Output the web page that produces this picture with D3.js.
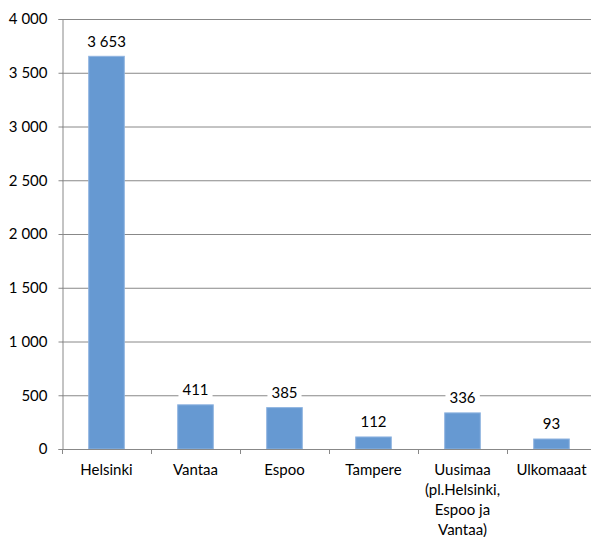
<!DOCTYPE html>
<html>
<head>
<meta charset="utf-8">
<script src="https://cdn.jsdelivr.net/npm/d3@7/dist/d3.min.js"></script>
<style>
  html, body { margin: 0; padding: 0; background: #fff; }
  svg { display: block; font-family: Lato, "Open Sans", sans-serif; }
</style>
</head>
<body>
<svg id="chart" width="591" height="537"></svg>
<script>
// Municipalities and their counts
const categories = ["Helsinki", "Vantaa", "Espoo", "Tampere", "Uusimaa (pl.Helsinki, Espoo ja Vantaa)", "Ulkomaaat"];
const categoryLines = [["Helsinki"], ["Vantaa"], ["Espoo"], ["Tampere"], ["Uusimaa", "(pl.Helsinki,", "Espoo ja", "Vantaa)"], ["Ulkomaaat"]];
const values = [3653, 411, 385, 112, 336, 93];
const yTicks = [0, 500, 1000, 1500, 2000, 2500, 3000, 3500, 4000];

const fmt = v => d3.format(",")(v).replace(/,/g, "\u00a0");
const fontSize = 15;

const svg = d3.select("#chart");
const plotLeft = 62, plotRight = 596, plotTop = 19, plotBottom = 449;

const x = d3.scaleBand().domain(categories).range([plotLeft, plotRight]).paddingInner(0.6).paddingOuter(0.3);
const y = d3.scaleLinear().domain([0, 4000]).range([plotBottom, plotTop]);

// Horizontal gridlines
svg.append("g").selectAll("line").data(yTicks.filter(t => t > 0)).join("line")
  .attr("x1", plotLeft).attr("x2", plotRight)
  .attr("y1", d => y(d) + 0.5).attr("y2", d => y(d) + 0.5)
  .attr("stroke", "#888").attr("stroke-width", 1);

// Y axis
const yAxis = svg.append("g").attr("transform", `translate(${plotLeft + 0.5},0)`)
  .call(d3.axisLeft(y).tickValues(yTicks).tickSize(4).tickPadding(11).tickFormat(fmt));
yAxis.select(".domain").attr("stroke", "#888");
yAxis.selectAll(".tick line").attr("stroke", "#888");
yAxis.selectAll(".tick text").attr("font-size", fontSize).attr("fill", "#000")
  .attr("font-family", "Lato, 'Open Sans', sans-serif");

// Bars
svg.append("g").selectAll("rect").data(values).join("rect")
  .attr("x", (d, i) => x(categories[i]))
  .attr("y", d => y(d))
  .attr("width", x.bandwidth())
  .attr("height", d => plotBottom - y(d))
  .attr("fill", "#6699D2")
  .attr("stroke", "#8FB4E0").attr("stroke-width", 1);

// X axis line and category ticks
svg.append("line").attr("x1", plotLeft).attr("x2", plotRight)
  .attr("y1", plotBottom + 0.5).attr("y2", plotBottom + 0.5).attr("stroke", "#888");
svg.append("g").selectAll("line").data(d3.range(categories.length + 1)).join("line")
  .attr("x1", i => plotLeft + i * x.step() + 0.5)
  .attr("x2", i => plotLeft + i * x.step() + 0.5)
  .attr("y1", plotBottom).attr("y2", plotBottom + 5).attr("stroke", "#888");

// Category labels (multi-line)
const cat = svg.append("g").selectAll("text").data(categories).join("text")
  .attr("x", d => x(d) + x.bandwidth() / 2)
  .attr("y", 475)
  .attr("text-anchor", "middle").attr("font-size", fontSize).attr("fill", "#000");
cat.each(function(d, i) {
  d3.select(this).selectAll("tspan").data(categoryLines[i]).join("tspan")
    .attr("x", x(d) + x.bandwidth() / 2)
    .attr("dy", (t, j) => j === 0 ? 0 : 20)
    .text(t => t);
});

// Value labels with white backing
const lab = svg.append("g").selectAll("g").data(values).join("g")
  .attr("transform", (d, i) => `translate(${x(categories[i]) + x.bandwidth() / 2},${y(d) - 15})`);
lab.append("text").attr("text-anchor", "middle").attr("dy", "0.35em")
  .attr("font-size", fontSize).attr("fill", "#000").text(fmt);
lab.each(function() {
  const g = d3.select(this);
  const bb = g.select("text").node().getBBox();
  g.insert("rect", "text").attr("x", bb.x - 4).attr("y", bb.y - 1)
    .attr("width", bb.width + 8).attr("height", bb.height + 2).attr("fill", "#fff");
});
</script>
</body>
</html>
